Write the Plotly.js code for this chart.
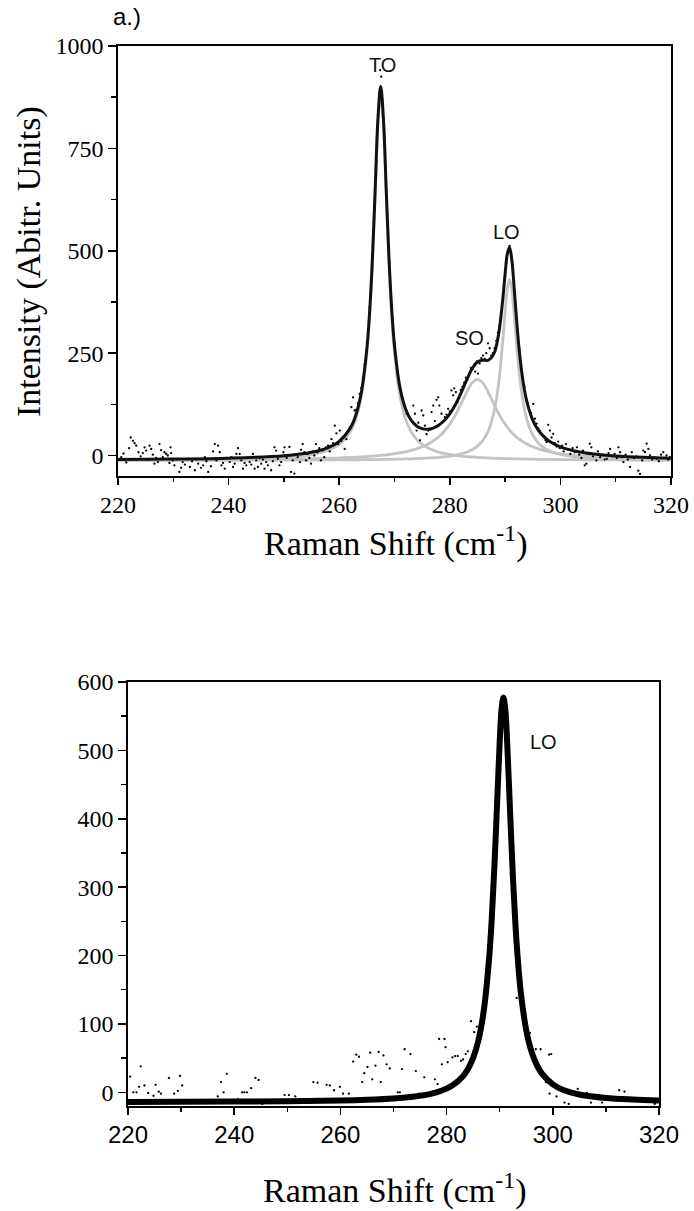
<!DOCTYPE html>
<html>
<head>
<meta charset="utf-8">
<script src="https://cdn.plot.ly/plotly-3.0.1.min.js"></script>
<style>html,body{margin:0;padding:0;background:#fff;}#chart{width:694px;height:1211px;}</style>
</head>
<body>
<div id="chart"></div>
<script>
// ---------- Panel a.) : Raman spectrum with three Lorentzian components ----------
const fitX = [220,230,240,250,255,258,260,262,263,264,265,265.5,266,266.5,267,267.5,268,268.5,269,269.5,270,271,272,273,274,275,276,277,278,279,280,281,282,283,284,285,286,287,288,288.5,289,289.5,290,290.4,290.8,291.2,291.6,292,292.5,293,293.5,294,295,296,297,298,300,303,306,310,315,320];
const fitTotal = [-9.8,-8.7,-6.5,-0.6,7.8,19.3,34.7,66.9,98.5,153.9,260.8,350.8,479.1,647.7,820.9,901.6,822.4,650.8,483.7,357.0,268.6,165.2,113.7,86.5,72.3,65.6,64.1,67.0,74.0,85.4,101.8,124.0,151.8,182.8,211.1,228.4,232.6,233.0,249.5,272.8,312.0,370.6,443.0,492.3,508.6,479.2,416.7,344.7,265.1,204.3,160.2,128.2,86.6,61.9,46.0,35.0,21.1,9.9,3.7,-1.1,-4.5,-6.5];
const compTO = [-11.0,-10.4,-9.0,-4.6,2.5,12.8,27.1,58.1,88.9,143.4,249.3,338.8,466.5,634.5,807.0,887.0,807.0,634.5,466.5,338.8,249.3,143.4,88.9,58.1,39.4,27.1,18.8,12.8,8.4,5.1,2.5,0.5,-1.2,-2.5,-3.6,-4.6,-5.3,-6.0,-6.6,-6.8,-7.1,-7.3,-7.5,-7.6,-7.8,-7.9,-8.1,-8.2,-8.3,-8.5,-8.6,-8.7,-9.0,-9.2,-9.4,-9.5,-9.8,-10.2,-10.5,-10.7,-11.0,-11.2];
const compSO = [-11.1,-10.7,-10.0,-8.8,-7.6,-6.7,-5.8,-4.7,-4.1,-3.3,-2.5,-2.0,-1.5,-0.9,-0.4,0.3,1.0,1.7,2.5,3.4,4.4,6.5,9.2,12.4,16.4,21.4,27.6,35.6,45.9,59.3,76.6,98.6,125.1,153.3,176.7,186.0,176.7,153.3,125.1,111.4,98.6,87.0,76.6,69.1,62.4,56.3,50.8,45.9,40.4,35.6,31.3,27.6,21.4,16.4,12.4,9.2,4.4,-0.4,-3.3,-5.8,-7.6,-8.8];
const compLO = [-11.8,-11.7,-11.5,-11.2,-11.0,-10.8,-10.7,-10.5,-10.4,-10.2,-10.1,-10.0,-9.9,-9.9,-9.8,-9.7,-9.6,-9.5,-9.3,-9.2,-9.1,-8.8,-8.4,-8.0,-7.5,-6.9,-6.2,-5.4,-4.4,-3.0,-1.3,0.9,3.9,8.0,14.0,23.0,37.3,61.7,107.0,144.2,196.4,266.9,349.9,406.8,430.0,406.8,349.9,283.0,209.0,153.2,113.5,85.3,50.2,30.7,18.9,11.3,2.6,-3.6,-6.5,-8.6,-9.8,-10.5];

const rawTopX = [220.2,220.6,221.0,221.5,222.0,222.3,222.7,223.0,223.3,223.7,224.1,224.5,224.8,225.1,225.4,225.7,226.0,226.3,226.6,226.9,227.2,227.5,227.8,228.1,228.4,228.7,229.0,229.3,229.5,229.6,229.9,
230.2,230.6,231.1,231.4,231.7,232.1,232.5,233.0,233.4,233.9,234.2,234.5,235.0,235.4,235.7,236.0,236.3,236.8,237.2,237.5,237.8,238.1,238.4,238.7,239.0,239.3,239.7,240.2,240.5,240.8,241.1,241.4,241.7,242.0,242.3,242.6,242.9,243.2,243.5,243.8,244.1,244.4,244.7,245.0,245.3,245.6,245.9,246.2,246.5,246.8,247.1,247.4,247.7,248.0,248.3,248.6,248.9,249.2,249.5,249.9,
250.1,250.5,251.0,251.3,251.6,251.9,252.2,252.5,252.9,253.1,253.4,253.7,254.0,254.3,254.6,254.9,255.2,255.5,255.8,256.1,256.4,256.7,257.0,257.3,257.6,258.0,258.3,258.6,258.9,259.2,259.5,259.8,260.1,260.4,260.7,261.0,261.3,261.6,261.9,262.2,262.5,262.8,
263.1,263.4,263.7,264.0,264.3,264.6,264.9,265.2,265.5,265.8,266.1,266.4,266.7,267.0,267.2,267.4,267.6,267.8,268.0,268.2,268.5,268.8,269.1,269.4,269.7,270.0,270.3,270.6,270.9,271.2,271.5,271.9,272.2,
272.5,272.8,273.1,273.4,273.7,274.0,274.3,274.6,274.9,275.2,275.5,275.8,276.1,276.4,276.7,277.0,277.3,277.6,277.9,278.1,278.5,278.8,279.1,279.4,279.7,280.0,280.3,280.6,280.8,281.1,281.4,281.7,282.0,
282.3,282.6,282.9,283.2,283.5,283.8,284.1,284.4,284.6,284.9,285.1,285.4,285.7,286.0,286.3,286.6,286.9,287.2,287.5,287.8,288.1,288.4,288.7,289.0,289.3,289.6,289.9,290.2,290.5,290.8,291.1,291.4,291.7,292.0,292.3,292.6,292.9,293.2,293.5,293.8,294.1,
294.4,294.7,295.1,295.4,295.7,296.0,296.3,296.6,297.0,297.3,297.5,297.8,298.1,298.4,298.7,299.0,299.3,299.6,299.9,
300.3,300.6,301.0,301.4,301.8,302.2,302.6,303.0,303.4,303.8,304.1,304.4,304.7,305.0,305.3,305.6,305.9,306.2,306.5,306.8,307.2,307.6,308.0,308.4,308.7,309.0,309.4,309.8,310.2,310.5,310.8,311.1,311.4,311.8,312.2,312.6,312.9,313.3,313.7,314.1,314.4,314.8,315.0,315.3,315.6,315.9,316.2,316.6,317.0,317.4,317.8,318.2,318.6,318.9,319.2,319.5,319.8];
const rawTopY = [-8,-4,5,-17,18,44,36,30,24,8,-2,6,20,12,-10,24,16,2,-20,-6,-16,28,13,-4,8,4,0,-18,20,6,-12,
-24,-10,-40,-30,-16,-22,-8,-28,-14,-36,-10,-20,-30,-24,-4,-14,-40,-26,10,28,-12,24,8,-24,-18,-32,-6,-16,-4,-28,-20,4,18,4,-12,-32,-18,-24,-6,-16,-22,4,-32,-12,-28,-6,-20,-10,-32,-16,-24,-2,-36,-14,20,12,-8,-24,-16,8,
20,-6,21,-40,-12,-44,2,-4,-16,14,28,8,-12,4,-6,-20,10,0,28,8,18,-12,12,-4,20,24,10,40,30,73,54,28,61,36,44,16,40,58,69,118,142,110,
112,128,150,165,190,222,250,300,362,420,505,600,720,830,885,941,925,870,815,760,650,560,470,380,320,275,240,200,172,151,140,122,102,
98,90,84,122,102,61,80,37,110,98,73,52,61,63,106,122,84,136,142,122,102,82,94,100,114,108,159,147,164,155,130,142,160,
168,178,190,186,200,214,210,222,205,230,200,225,238,244,236,250,274,262,244,250,262,280,300,318,350,385,430,470,500,512,490,455,400,350,300,260,220,185,168,140,128,
110,104,126,90,78,66,60,52,48,38,33,75,61,44,53,30,22,34,18,
24,10,28,14,4,18,8,20,2,-6,12,-24,-20,6,29,20,-2,4,-12,10,-4,2,-10,-8,6,16,-2,4,-6,20,8,-4,-16,2,-10,-28,8,-6,-2,-37,-45,-12,12,8,29,16,0,-10,-4,-8,-14,2,8,-6,0,-10,-4];

// ---------- Lower panel : single LO Lorentzian ----------
const fit2X = [220,230,240,250,260,265,270,274,277,279,281,283,284,285,286,287,288,288.5,289,289.5,290,290.35,290.7,291.05,291.4,292,292.5,293,293.5,294,295,296,297,298,300,302,305,310,315,320];
const fit2Y = [-14.0,-13.9,-13.6,-13.1,-12.0,-10.9,-9.0,-6.1,-2.2,2.3,9.6,22.9,33.9,50.4,76.3,119.3,195.2,253.4,329.2,420.8,512.9,559.9,577.5,559.9,512.9,401.7,312.6,240.4,185.5,144.5,90.8,59.3,39.7,26.8,11.7,3.5,-3.1,-8.2,-10.5,-11.8];
const raw2X = [220.4,221.0,221.6,222.1,222.4,223.1,223.8,224.8,225.2,225.8,226.2,227.7,228.7,229.4,229.8,230.2,236.9,237.5,238.0,238.6,240.7,241.5,241.9,242.4,243.2,244.0,244.6,245.3,249.5,250.3,251.5,254.9,255.7,257.4,258.0,258.8,259.9,260.5,261.6,262.4,263.0,263.5,264.1,264.5,265.1,265.6,266.0,266.6,267.2,267.6,268.1,268.7,269.3,270.8,271.2,271.6,272.1,273.2,274.2,274.8,275.8,276.5,277.8,278.3,278.6,279.1,279.6,279.8,280.2,281.1,281.1,281.6,282.1,282.7,283.1,283.6,284.0,284.6,285.2,285.7,286.5,287.4,288.2,288.9,289.6,290.2,290.7,291.2,291.8,292.5,293.2,293.8,295.7,296.8,297.7,298.7,299.3,299.4,299.7,300.7,302.2,303.0,304.7,306.4,307.2,309.3,312.5,313.5,319.2];
const raw2Y = [23,0,0,8,38,10,-1,-5,11,1,-2,21,-2,2,24,10,-6,15,0,27,-10,0,0,0,6,21,18,-17,-4,-4,-6,15,14,11,10,3,8,-2,-2,45,55,52,15,28,37,58,19,39,59,15,54,41,35,0,0,34,63,56,31,-2,22,-5,19,12,78,41,78,66,44,51,11,53,53,46,48,56,60,104,88,96,98,150,225,320,445,540,572,535,445,318,138,150,87,63,63,15,55,-2,56,-6,-15,-17,5,-1,-15,-15,3,1,-17];

// ---------- tick / label definitions ----------
const topYTicks = [0,250,500,750,1000];
const botYTicks = [0,100,200,300,400,500,600];
const xTicks = [220,240,260,280,300,320];
const peakLabels = ['TO','SO','LO'];
const panelLabel = 'a.)';
const xTitle = 'Raman Shift (cm<sup>-1</sup>)';
const yTitle = 'Intensity (Abitr. Units)';

const SERIF = 'Liberation Serif';
const SANS = 'Liberation Sans';
const grayC = '#c4c4c4';

const traces = [
  {x: fitX, y: compTO, xaxis:'x', yaxis:'y', mode:'lines', line:{color:grayC, width:2.8, shape:'spline'}, name:'TO'},
  {x: fitX, y: compSO, xaxis:'x', yaxis:'y', mode:'lines', line:{color:grayC, width:2.8, shape:'spline'}, name:'SO'},
  {x: fitX, y: compLO, xaxis:'x', yaxis:'y', mode:'lines', line:{color:grayC, width:2.8, shape:'spline'}, name:'LO'},
  {x: rawTopX, y: rawTopY, xaxis:'x', yaxis:'y', mode:'markers', marker:{color:'#000', size:2.3}, name:'data'},
  {x: fitX, y: fitTotal, xaxis:'x', yaxis:'y', mode:'lines', line:{color:'#111', width:3, shape:'spline'}, name:'fit'},
  {x: raw2X, y: raw2Y, xaxis:'x2', yaxis:'y2', mode:'markers', marker:{color:'#000', size:2.3}, name:'data2'},
  {x: fit2X, y: fit2Y, xaxis:'x2', yaxis:'y2', mode:'lines', line:{color:'#000', width:6, shape:'spline'}, name:'fit2'}
];

const serifTick = {family:SERIF, size:24, color:'#000'};
const sansTick = {family:SANS, size:24, color:'#000'};
const base = {showline:true, linecolor:'#000', linewidth:1.6, mirror:true, ticks:'outside', tickcolor:'#000', tickwidth:1.5, showgrid:false, zeroline:false};
const mirrorAx = {showline:false, showgrid:false, zeroline:false, ticks:'inside', tickcolor:'#000', tickwidth:1.5, showticklabels:false, tickfont:serifTick};

const dTopX = [118/694, 671/694], dTopY = [1-476/1211, 1-46/1211];
const dBotX = [128/694, 659/694], dBotY = [1-1106/1211, 1-682/1211];

const layout = {
  width:694, height:1211, margin:{l:0,r:0,t:0,b:0}, showlegend:false,
  font:{family:SERIF, size:24, color:'#000'},
  paper_bgcolor:'#fff', plot_bgcolor:'rgba(0,0,0,0)',
  xaxis: Object.assign({}, base, {domain:dTopX, anchor:'y', range:[220,320], tickmode:'array', tickvals:xTicks, ticklen:7,
    minor:{dtick:10, tick0:220, ticks:'outside', ticklen:4, tickcolor:'#000', tickwidth:1.5},
    tickfont:serifTick}),
  yaxis: Object.assign({}, base, {domain:dTopY, anchor:'x', range:[-50,1000], tickmode:'array', tickvals:topYTicks, ticklen:8,
    minor:{dtick:125, tick0:0, ticks:'outside', ticklen:5, tickcolor:'#000', tickwidth:1.5},
    tickfont:serifTick}),
  xaxis3: Object.assign({}, mirrorAx, {overlaying:'x', side:'top', anchor:'y', range:[220,320], tickmode:'array', tickvals:xTicks, ticklen:7,
    minor:{dtick:10, tick0:220, ticks:'inside', ticklen:4, tickcolor:'#000', tickwidth:1.5}}),
  yaxis3: Object.assign({}, mirrorAx, {overlaying:'y', side:'right', anchor:'x', range:[-50,1000], tickmode:'array', tickvals:topYTicks, ticklen:7,
    minor:{dtick:125, tick0:0, ticks:'inside', ticklen:4, tickcolor:'#000', tickwidth:1.5}}),
  xaxis2: Object.assign({}, base, {domain:dBotX, anchor:'y2', range:[220,320], tickmode:'array', tickvals:xTicks, ticklen:7,
    minor:{dtick:10, tick0:220, ticks:'outside', ticklen:4, tickcolor:'#000', tickwidth:1.5},
    tickfont:sansTick}),
  yaxis2: Object.assign({}, base, {domain:dBotY, anchor:'x2', range:[-20,600], tickmode:'array', tickvals:botYTicks, ticklen:8,
    minor:{dtick:50, tick0:0, ticks:'outside', ticklen:5, tickcolor:'#000', tickwidth:1.5},
    tickfont:serifTick}),
  xaxis4: Object.assign({}, mirrorAx, {overlaying:'x2', side:'top', anchor:'y2', range:[220,320], tickmode:'array', tickvals:xTicks, ticklen:7,
    minor:{dtick:10, tick0:220, ticks:'inside', ticklen:4, tickcolor:'#000', tickwidth:1.5}}),
  yaxis4: Object.assign({}, mirrorAx, {overlaying:'y2', side:'right', anchor:'x2', range:[-20,600], tickmode:'array', tickvals:botYTicks, ticklen:7,
    minor:{dtick:50, tick0:0, ticks:'inside', ticklen:4, tickcolor:'#000', tickwidth:1.5}}),
  annotations: [
    {text:panelLabel, xref:'paper', yref:'paper', x:127/694, y:1-17/1211, xanchor:'center', yanchor:'middle', showarrow:false, font:{family:SANS, size:24, color:'#000'}},
    {text:peakLabels[0], xref:'x', yref:'y', x:267.9, y:954, xanchor:'center', yanchor:'middle', showarrow:false, font:{family:SANS, size:20, color:'#111'}},
    {text:peakLabels[1], xref:'x', yref:'y', x:283.65, y:287, xanchor:'center', yanchor:'middle', showarrow:false, font:{family:SANS, size:20, color:'#111'}},
    {text:peakLabels[2], xref:'x', yref:'y', x:290.2, y:546, xanchor:'center', yanchor:'middle', showarrow:false, font:{family:SANS, size:20, color:'#111'}},
    {text:peakLabels[2], xref:'x2', yref:'y2', x:298.3, y:512, xanchor:'center', yanchor:'middle', showarrow:false, font:{family:SANS, size:20, color:'#111'}},
    {text:xTitle, xref:'paper', yref:'paper', x:395/694, y:1-541/1211, xanchor:'center', yanchor:'middle', showarrow:false, font:{family:SERIF, size:34, color:'#000'}},
    {text:xTitle, xref:'paper', yref:'paper', x:394/694, y:1-1188/1211, xanchor:'center', yanchor:'middle', showarrow:false, font:{family:SERIF, size:34, color:'#000'}},
    {text:yTitle, xref:'paper', yref:'paper', x:29/694, y:1-262/1211, xanchor:'center', yanchor:'middle', textangle:-90, showarrow:false, font:{family:SERIF, size:34, color:'#000'}}
  ]
};

Plotly.newPlot('chart', traces, layout, {staticPlot:true, displayModeBar:false});
</script>
</body>
</html>
